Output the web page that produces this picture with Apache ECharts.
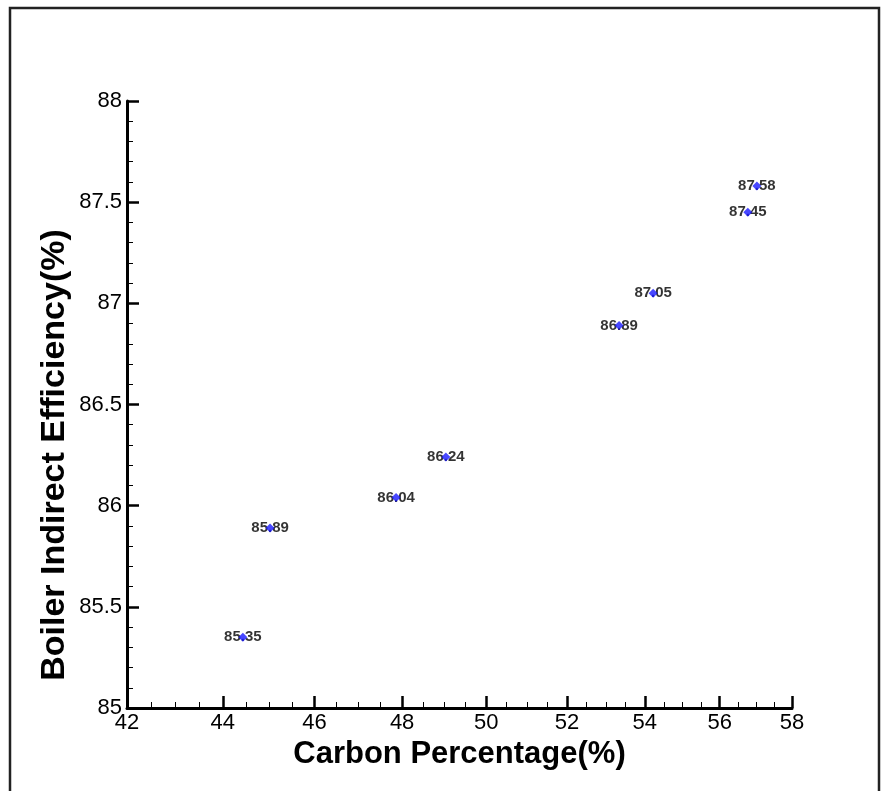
<!DOCTYPE html>
<html>
<head>
<meta charset="utf-8">
<script src="https://cdn.jsdelivr.net/npm/echarts@6/dist/echarts.min.js"></script>
<style>
html,body{margin:0;padding:0;background:#fff;}
#chart{width:890px;height:791px;}
</style>
</head>
<body>
<div id="chart"></div>
<script>
const carbon = [44.43, 45.02, 47.86, 49.03, 53.33, 54.22, 56.77, 57.02];
const efficiency = [85.35, 85.89, 86.04, 86.24, 86.89, 87.05, 87.45, 87.58];
const xMajorTicks = [42, 44, 46, 48, 50, 52, 54, 56, 58];
const xMinorTicks = [42.5, 43, 43.5, 44.5, 45, 45.5, 46.5, 47, 47.5, 48.5, 49, 49.5, 50.5, 51, 51.5, 52.5, 53, 53.5, 54.5, 55, 55.5, 56.5, 57, 57.5];
const yTickLabels = ['85', '85.5', '86', '86.5', '87', '87.5', '88'];
const xTitle = 'Carbon Percentage(%)';
const yTitle = 'Boiler Indirect Efficiency(%)';

const points = carbon.map((c, i) => [c, efficiency[i]]);
const font = 'Liberation Sans, Arial, Helvetica, sans-serif';

const chart = echarts.init(document.getElementById('chart'), null, {renderer: 'canvas'});
chart.setOption({
  backgroundColor: '#fff',
  animation: false,
  graphic: [{
    type: 'rect',
    shape: {x: 10, y: 8, width: 869, height: 800},
    style: {fill: 'none', stroke: '#222', lineWidth: 2.5}
  }, {
    type: 'text',
    x: 55, y: 455,
    rotation: Math.PI / 2,
    style: {
      text: yTitle, font: 'bold 34px ' + font, fill: '#000',
      align: 'center', verticalAlign: 'middle'
    }
  }],
  grid: {left: 127, right: 98, top: 101, bottom: 83},
  xAxis: [{
    type: 'log', min: 42, max: 58, position: 'bottom',
    name: xTitle, nameLocation: 'middle', nameGap: 28,
    nameTextStyle: {fontFamily: font, fontWeight: 'bold', fontSize: 31, color: '#000'},
    axisLine: {show: true, onZero: false, lineStyle: {color: '#000', width: 3}},
    axisTick: {show: true, inside: true, length: 12, customValues: xMajorTicks, lineStyle: {color: '#000', width: 2.5}},
    axisLabel: {customValues: xMajorTicks, fontFamily: font, fontSize: 22, color: '#000', margin: 4},
    splitLine: {show: false}
  }, {
    type: 'log', min: 42, max: 58, position: 'bottom', offset: 0,
    axisLine: {show: false, onZero: false},
    axisTick: {show: true, inside: true, length: 6, customValues: xMinorTicks, lineStyle: {color: '#000', width: 1}},
    axisLabel: {show: false},
    splitLine: {show: false}
  }],
  yAxis: {
    type: 'value', min: 85, max: 88, interval: 0.5,
    axisLine: {show: true, onZero: false, lineStyle: {color: '#000', width: 3}},
    axisTick: {show: true, inside: true, length: 12, lineStyle: {color: '#000', width: 2.5}},
    minorTick: {show: true, splitNumber: 5, length: 6, lineStyle: {color: '#000', width: 1}},
    axisLabel: {
      fontFamily: font, fontSize: 22, color: '#000', margin: 5,
      formatter: v => yTickLabels.find(t => Math.abs(parseFloat(t) - v) < 1e-9) || String(v)
    },
    splitLine: {show: false}
  },
  series: [{
    type: 'scatter',
    data: points,
    symbolSize: 1,
    itemStyle: {color: 'rgba(0,0,0,0)'},
    z: 2,
    silent: true,
    label: {
      show: true, position: 'inside',
      formatter: p => p.value[1].toFixed(2),
      fontFamily: font, fontWeight: 'bold', fontSize: 15, color: '#000'
    }
  }, {
    type: 'scatter',
    data: points,
    symbol: 'diamond',
    symbolSize: 9,
    itemStyle: {color: '#1a1aff'},
    z: 5
  }]
});
</script>
</body>
</html>
